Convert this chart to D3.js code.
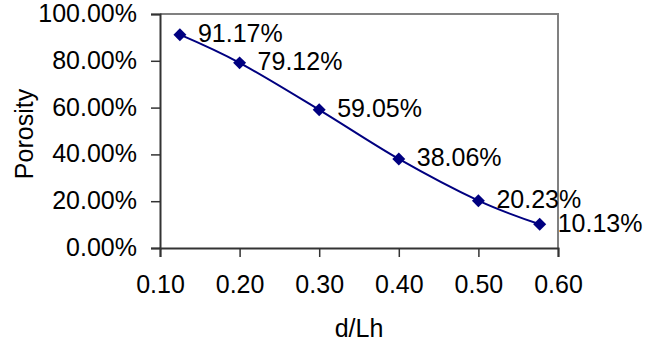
<!DOCTYPE html>
<html>
<head>
<meta charset="utf-8">
<script src="https://cdn.jsdelivr.net/npm/d3@7"></script>
<style>
  html, body { margin: 0; padding: 0; background: #fff; }
  svg { display: block; }
  text { font-family: "Liberation Sans", Arial, sans-serif; fill: #000; }
</style>
</head>
<body>
<svg id="chart" width="663" height="347"></svg>
<script>
const dLh = [0.125, 0.2, 0.3, 0.4, 0.5, 0.577];
const porosity = [91.17, 79.12, 59.05, 38.06, 20.23, 10.13];
const xTicks = [0.10, 0.20, 0.30, 0.40, 0.50, 0.60];
const yTicks = [0, 20, 40, 60, 80, 100];
const xTitle = "d/Lh";
const yTitle = "Porosity";

const svg = d3.select("#chart");
const L = 160, R = 558, T = 14, B = 248;
const FS = 25;

const x = d3.scaleLinear().domain([0.10, 0.60]).range([L, R]);
const y = d3.scaleLinear().domain([0, 100]).range([B, T]);

// plot border top/right (gray)
svg.append("path")
  .attr("d", `M${L},${T}H${R}V${B}`)
  .attr("fill", "none").attr("stroke", "#808080").attr("stroke-width", 2);

// Y axis
const yAxis = d3.axisLeft(y).tickValues(yTicks).tickSize(9).tickPadding(14)
  .tickFormat(d => d.toFixed(2) + "%");
const gy = svg.append("g").attr("transform", `translate(${L},0)`).call(yAxis);
gy.select(".domain").attr("stroke", "#333").attr("stroke-width", 2);
gy.selectAll(".tick line").attr("stroke", "#333").attr("stroke-width", 1.5);
gy.selectAll(".tick text")
  .attr("font-size", FS).attr("font-family", "Liberation Sans, Arial, sans-serif")
  .attr("fill", "#000").attr("dy", "0.3em");

// X axis
const xAxis = d3.axisBottom(x).tickValues(xTicks).tickSize(9).tickPadding(18)
  .tickFormat(d => d.toFixed(2));
const gx = svg.append("g").attr("transform", `translate(0,${B})`).call(xAxis);
gx.select(".domain").attr("stroke", "#333").attr("stroke-width", 2);
gx.selectAll(".tick line").attr("stroke", "#333").attr("stroke-width", 1.5);
gx.selectAll(".tick text")
  .attr("font-size", FS).attr("font-family", "Liberation Sans, Arial, sans-serif")
  .attr("fill", "#000");

// Titles
svg.append("text").attr("x", (L + R) / 2).attr("y", 337)
  .attr("text-anchor", "middle").attr("font-size", FS).text(xTitle);
svg.append("text").attr("transform", `translate(33,134) rotate(-90)`)
  .attr("text-anchor", "middle").attr("font-size", FS).text(yTitle);

const pts = dLh.map((d, i) => [d, porosity[i]]);

// smoothed line
const line = d3.line().x(d => x(d[0])).y(d => y(d[1])).curve(d3.curveCardinal.tension(0));
svg.append("path").datum(pts).attr("d", line)
  .attr("fill", "none").attr("stroke", "#000080").attr("stroke-width", 2);

// markers
svg.selectAll(".mk").data(pts).enter().append("path")
  .attr("class", "mk")
  .attr("d", d3.symbol(d3.symbolSquare, 84))
  .attr("transform", d => `translate(${x(d[0])},${y(d[1])}) rotate(45)`)
  .attr("fill", "#000080");

// data labels
svg.selectAll(".lbl").data(pts).enter().append("text")
  .attr("class", "lbl")
  .attr("x", d => x(d[0]) + 18)
  .attr("y", d => y(d[1]) + 7.5)
  .attr("font-size", FS)
  .text(d => d[1].toFixed(2) + "%");
</script>
</body>
</html>
